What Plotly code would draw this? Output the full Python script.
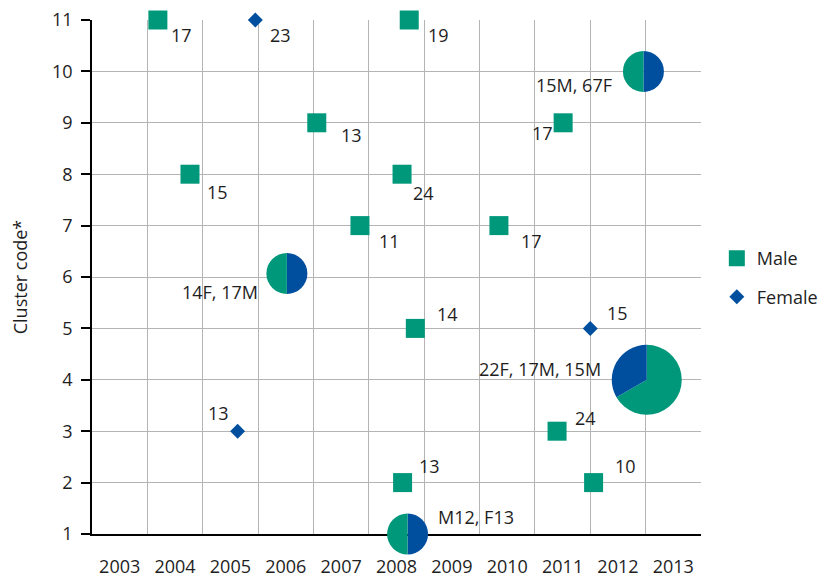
import plotly.graph_objects as go

# ---------------- data ----------------
years = list(range(2003, 2014))
y_ticks = list(range(1, 12))

male_x = [2003.69, 2008.23, 2006.56, 2011.01, 2004.27, 2008.10, 2007.34, 2009.85, 2008.34, 2010.90, 2008.11, 2011.56]
male_y = [11, 11, 9, 9, 8, 8, 7, 7, 5, 3, 2, 2]
male_lbl = ["17", "19", "13", "17", "15", "24", "11", "17", "14", "24", "13", "10"]

female_x = [2005.45, 2011.50, 2005.13]
female_y = [11, 5, 3]
female_lbl = ["23", "15", "13"]

pie_x = [2012.46, 2006.02, 2012.52, 2008.20]
pie_y = [10, 6.07, 4, 1]
pie_male = [1, 1, 2, 1]
pie_female = [1, 1, 1, 1]
pie_lbl = ["15M, 67F", "14F, 17M", "22F, 17M, 15M", "M12, F13"]

# ---------------- style ----------------
GREEN = "#00987a"
BLUE = "#004f9f"
TXT = "#1e1e1e"
FONT = "Open Sans"
FS = 18
GRID = "#b4b4b4"

# the page body has an 8px margin, so the figure is sized to fit the window
W, H = 824, 569
ML, MR, MT, MB = 84, 131, 12, 10
XR = [2002.5, 2013.5]
YR = [1, 11]
PLOT_W = W - ML - MR
PAPER_H = H - MT - MB
Y_OFF = 33  # px from paper bottom to y axis
PLOT_H = PAPER_H - Y_OFF

# label placement: (anchor, dx, dy) in px, dy positive downward
male_off = [("left", 11, 15), ("left", 17, 15), ("left", 22, 12), ("right", -8, 10),
            ("left", 15, 18), ("left", 9, 19), ("left", 17, 15), ("left", 20, 15),
            ("left", 20, -14), ("left", 16, -13), ("left", 14, -17), ("left", 19, -17)]
female_off = [("left", 13, 15), ("left", 15, -15), ("right", -7, -18)]
pie_off = [("right", -29, 14), ("right", -27, 19), ("right", -44, -11), ("left", 28, -17)]
pie_r = [20.5, 20.5, 35, 20.5]
pie_first = ["female", "female", "male", "female"]

fig = go.Figure()

fig.add_trace(go.Scatter(
    x=male_x, y=male_y, mode="markers", name="Male",
    marker=dict(symbol="square", size=19, color=GREEN, line=dict(width=0)),
    cliponaxis=False, legendgroup="m"))
fig.add_trace(go.Scatter(
    x=female_x, y=female_y, mode="markers", name="Female",
    marker=dict(symbol="diamond", size=11.5, color=BLUE, line=dict(width=0)),
    cliponaxis=False, legendgroup="f"))


def to_px(x, y):
    cx = (x - XR[0]) / (XR[1] - XR[0]) * PLOT_W
    cy = Y_OFF + (y - YR[0]) / (YR[1] - YR[0]) * PLOT_H
    return cx, cy


for i in range(len(pie_x)):
    cx, cy = to_px(pie_x[i], pie_y[i])
    r = pie_r[i]
    if pie_first[i] == "female":
        vals = [pie_female[i], pie_male[i]]
        cols = [BLUE, GREEN]
    else:
        vals = [pie_male[i], pie_female[i]]
        cols = [GREEN, BLUE]
    fig.add_trace(go.Pie(
        values=vals, labels=["a%d" % i, "b%d" % i], sort=False,
        direction="clockwise", rotation=0,
        marker=dict(colors=cols, line=dict(width=0)),
        textinfo="none", hoverinfo="skip", showlegend=False,
        domain=dict(x=[(cx - r) / PLOT_W, (cx + r) / PLOT_W],
                    y=[(cy - r) / PAPER_H, (cy + r) / PAPER_H])))

annos = []


def add_labels(xs, ys, lbls, offs):
    for x, y, t, (anc, dx, dy) in zip(xs, ys, lbls, offs):
        annos.append(dict(x=x, y=y, xref="x", yref="y", text=t, showarrow=False,
                          xanchor=anc, yanchor="middle", xshift=dx, yshift=-dy,
                          font=dict(family=FONT, size=FS, color=TXT)))


add_labels(male_x, male_y, male_lbl, male_off)
add_labels(female_x, female_y, female_lbl, female_off)
add_labels(pie_x, pie_y, pie_lbl, pie_off)

fig.update_layout(
    width=W, height=H,
    margin=dict(l=ML, r=MR, t=MT, b=MB, pad=0, autoexpand=False),
    paper_bgcolor="white", plot_bgcolor="white",
    font=dict(family=FONT, size=FS, color=TXT),
    annotations=annos,
    showlegend=True,
    legend=dict(x=1.026, xanchor="left", y=0.529, yanchor="middle",
                traceorder="grouped", tracegroupgap=12,
                font=dict(family=FONT, size=FS, color=TXT),
                bgcolor="rgba(0,0,0,0)"),
    xaxis=dict(range=XR, tickmode="array", tickvals=years, automargin=False,
               ticktext=[str(v) for v in years], showgrid=False,
               showline=True, linecolor="black", linewidth=1.5,
               ticks="outside", ticklen=16, tickcolor="rgba(0,0,0,0)",
               ticklabeloverflow="allow",
               zeroline=False, fixedrange=True,
               minor=dict(tickmode="array",
                          tickvals=[v + 0.5 for v in years[:-1]],
                          showgrid=True, gridcolor=GRID, gridwidth=1, ticks="")),
    yaxis=dict(range=YR, domain=[Y_OFF / PAPER_H, 1], tickmode="array",
               tickvals=y_ticks, showgrid=True, gridcolor=GRID, gridwidth=1,
               showline=True, linecolor="black", linewidth=1.5, automargin=False,
               ticks="outside", ticklen=9, tickcolor="black", tickwidth=1.5,
               ticklabelstandoff=5, ticklabeloverflow="allow",
               zeroline=False, fixedrange=True,
               title=dict(text="Cluster code*", standoff=25,
                          font=dict(family=FONT, size=FS, color=TXT))),
)

fig.write_html("out.html")
